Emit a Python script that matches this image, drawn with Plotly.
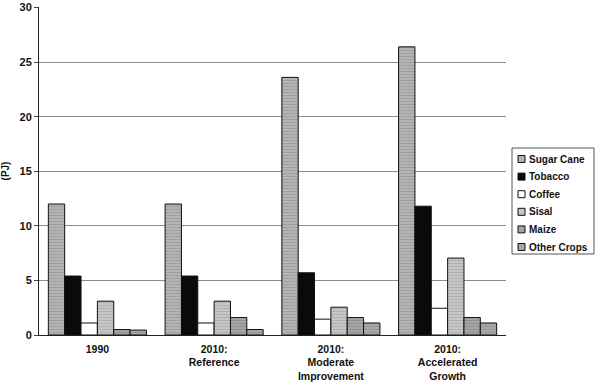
import plotly.graph_objects as go

categories = ["1990", "2010:<br>Reference", "2010:<br>Moderate<br>Improvement", "2010:<br>Accelerated<br>Growth"]
series_names = ["Sugar Cane", "Tobacco", "Coffee", "Sisal", "Maize", "Other Crops"]
sugar_cane = [12.0, 12.0, 23.6, 26.4]
tobacco = [5.4, 5.4, 5.7, 11.8]
coffee = [1.1, 1.1, 1.45, 2.45]
sisal = [3.1, 3.1, 2.55, 7.05]
maize = [0.5, 1.6, 1.6, 1.6]
other_crops = [0.45, 0.5, 1.1, 1.1]
y_ticks = [0, 5, 10, 15, 20, 25, 30]

values = [sugar_cane, tobacco, coffee, sisal, maize, other_crops]
bg_colors = ["#b4b4b4", "#0a0a0a", "#ffffff", "#c6c6c6", "#a4a4a4", "#a8a8a8"]
fg_colors = ["#8a8a8a", "#0a0a0a", "#ffffff", "#9c9c9c", "#808080", "#858585"]
patterned = [True, False, False, True, True, True]

W, H = 599, 386
L, R, T, B = 39, 93, 7, 51
PW, PH = W - L - R, H - T - B

fig = go.Figure()
for name, vals, bg, fg, pat in zip(series_names, values, bg_colors, fg_colors, patterned):
    marker = dict(color=bg, line=dict(color="#111111", width=1))
    if pat:
        marker["pattern"] = dict(shape="-", size=3, solidity=0.35, fgcolor=fg, bgcolor=bg)
    fig.add_trace(go.Bar(x=categories, y=vals, name=name, marker=marker, showlegend=False))

# manual legend (box, swatches, labels) in paper coordinates
def px(xp):
    return (xp - L) / PW

def py(yp):
    return (H - B - yp) / PH

box = (512, 148, 594, 254)
fig.add_shape(type="rect", xref="paper", yref="paper",
              x0=px(box[0]), x1=px(box[2]), y0=py(box[3]), y1=py(box[1]),
              line=dict(color="#555555", width=1), fillcolor="white")
row0, step = 159, 17.6
for i, (name, bg) in enumerate(zip(series_names, bg_colors)):
    yc = row0 + i * step
    fig.add_shape(type="rect", xref="paper", yref="paper",
                  x0=px(518), x1=px(525), y0=py(yc + 3.5), y1=py(yc - 3.5),
                  line=dict(color="#111111", width=1), fillcolor=bg)
    fig.add_annotation(xref="paper", yref="paper", x=px(527), y=py(yc),
                       xanchor="left", yanchor="middle", text=name, showarrow=False,
                       font=dict(family="Liberation Sans, Arial", size=10, color="#111111", weight="bold"))

fig.update_layout(
    width=W, height=H,
    margin=dict(l=L, r=R, t=T, b=B, autoexpand=False),
    paper_bgcolor="white", plot_bgcolor="white",
    barmode="group", bargap=0.16, bargroupgap=0,
    font=dict(family="Liberation Sans, Arial", size=11, color="#111111"),
    showlegend=False,
    xaxis=dict(
        showline=True, linecolor="#222222", linewidth=1,
        tickfont=dict(weight="bold", size=10.5),
        ticks="", ticklabelstandoff=4, automargin=False,
    ),
    yaxis=dict(
        range=[0, 30.05], tickvals=y_ticks,
        showline=True, linecolor="#222222", linewidth=1,
        showgrid=True, gridcolor="#8c8c8c", gridwidth=1,
        ticks="outside", ticklen=4, tickcolor="#444444",
        tickfont=dict(weight="bold", size=11),
        title=dict(text="(PJ)", font=dict(weight="bold", size=10), standoff=8),
        zeroline=False, automargin=False,
    ),
)

fig.write_html("out.html", config={"displayModeBar": False},
               post_script="document.body.style.margin='0';document.body.style.padding='0';document.body.style.overflow='hidden';")
